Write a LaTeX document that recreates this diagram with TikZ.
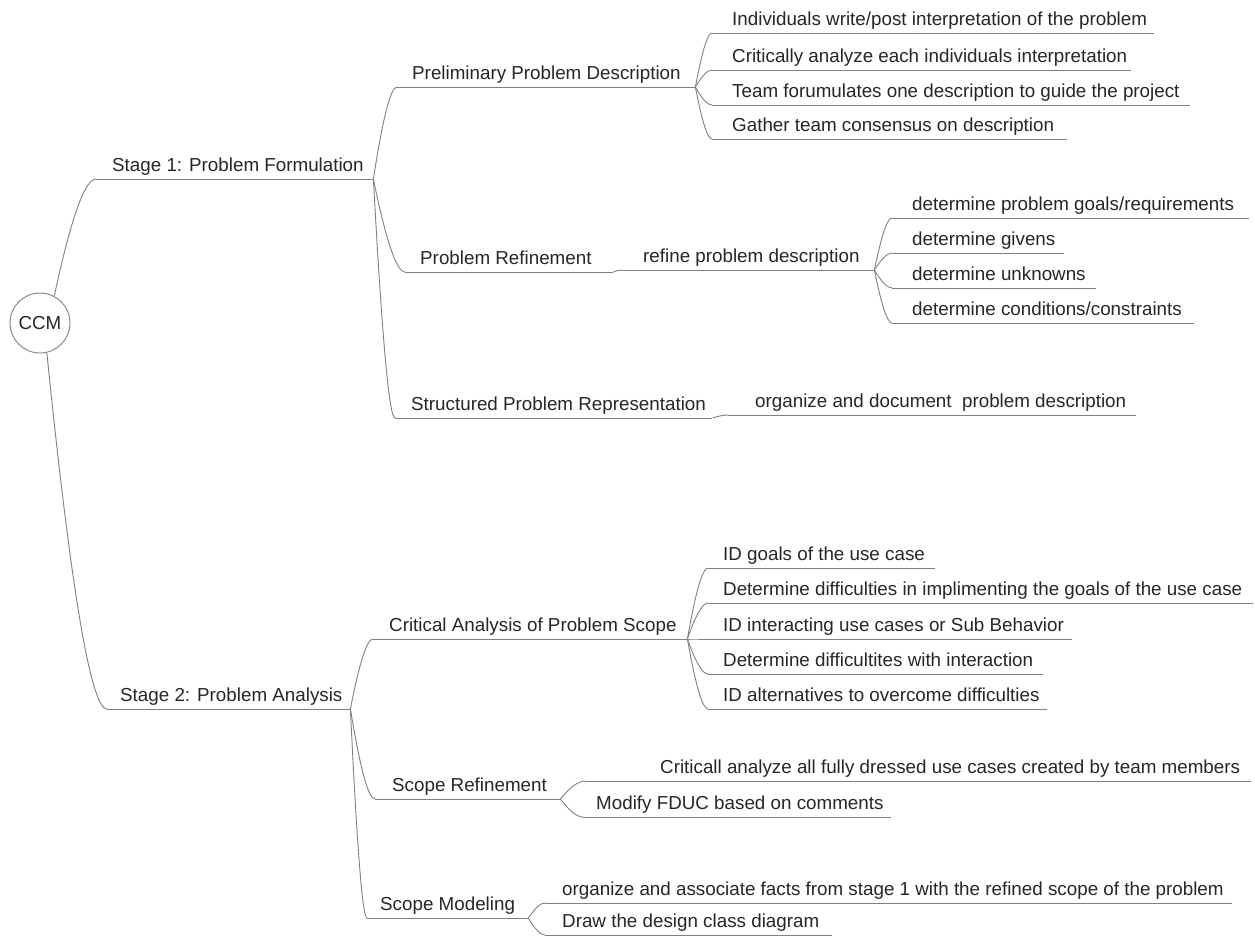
\documentclass[tikz,border=0pt]{standalone}
\usepackage{fontspec}
\setmainfont{Liberation Sans}
\usetikzlibrary{calc}
\newcommand{\mmtext}[3]{\makebox[#1][l]{\hspace*{#2}#3}}
\begin{document}
\begin{tikzpicture}[x=1pt,y=-1pt,
  link/.style={draw=black!50, line width=0.9pt},
  topic/.style={anchor=south west, inner sep=0pt, text height=14pt, text depth=7pt,
    font=\fontsize{18.8}{22}\selectfont, text=black!85},
  curvy/.style={to path={let \p1=(\tikztostart), \p2=(\tikztotarget) in
    .. controls ({\x1+0.4*(\x2-\x1)},{\y1+0.667*(\y2-\y1)}) and ({\x2-0.267*(\x2-\x1)},\y2) .. (\tikztotarget)}}
]
\useasboundingbox (0,0) rectangle (1255,937);

% root
\node[draw=black!50, line width=0.9pt, circle, minimum size=60pt, inner sep=0pt, fill=white,
  font=\fontsize{18.8}{22}\selectfont, text=black!85] (ccm) at (40,323) {CCM};

% level 1
\node[topic] (s1) at (96,179) {\mmtext{277pt}{16pt}{Stage 1: Problem Formulation}};
\node[topic] (s2) at (107,709) {\mmtext{243pt}{13pt}{Stage 2: Problem Analysis}};

% stage 1 children
\node[topic] (p1) at (397,87) {\mmtext{298pt}{15pt}{Preliminary Problem Description}};
\node[topic] (p2) at (405,272) {\mmtext{208pt}{15pt}{Problem Refinement}};
\node[topic] (p3) at (395,418) {\mmtext{317pt}{16pt}{Structured Problem Representation}};

\node[topic] (c11) at (712,33) {\mmtext{442pt}{20pt}{Individuals write/post interpretation of the problem}};
\node[topic] (c12) at (712,70) {\mmtext{419pt}{20pt}{Critically analyze each individuals interpretation}};
\node[topic] (c13) at (712,105) {\mmtext{478pt}{20pt}{Team forumulates one description to guide the project}};
\node[topic] (c14) at (712,139) {\mmtext{355pt}{20pt}{Gather team consensus on description}};

\node[topic] (r1) at (622,270) {\mmtext{252pt}{21pt}{refine problem description}};
\node[topic] (d1) at (892,218) {\mmtext{357pt}{20pt}{determine problem goals/requirements}};
\node[topic] (d2) at (892,253) {\mmtext{172pt}{20pt}{determine givens}};
\node[topic] (d3) at (892,288) {\mmtext{204pt}{20pt}{determine unknowns}};
\node[topic] (d4) at (892,323) {\mmtext{302pt}{20pt}{determine conditions/constraints}};

\node[topic] (o1) at (728,415) {\mmtext{408pt}{27pt}{organize and document\ \ problem description}};

% stage 2 children
\node[topic] (q1) at (373,639) {\mmtext{314pt}{16pt}{Critical Analysis of Problem Scope}};
\node[topic] (q2) at (375,799) {\mmtext{185pt}{17pt}{Scope Refinement}};
\node[topic] (q3) at (367,918) {\mmtext{161pt}{13pt}{Scope Modeling}};

\node[topic] (e1) at (708,568) {\mmtext{227pt}{15pt}{ID goals of the use case}};
\node[topic] (e2) at (708,603) {\mmtext{545pt}{15pt}{Determine difficulties in implimenting the goals of the use case}};
\node[topic] (e3) at (700,639) {\mmtext{372pt}{23pt}{ID interacting use cases or Sub Behavior}};
\node[topic] (e4) at (708,674) {\mmtext{335pt}{15pt}{Determine difficultites with interaction}};
\node[topic] (e5) at (708,709) {\mmtext{339pt}{15pt}{ID alternatives to overcome difficulties}};

\node[topic] (f1) at (585,781) {\mmtext{666pt}{75pt}{Criticall analyze all fully dressed use cases created by team members}};
\node[topic] (f2) at (583,817) {\mmtext{308pt}{13pt}{Modify FDUC based on comments}};

\node[topic] (g1) at (545,903) {\mmtext{687pt}{17pt}{organize and associate facts from stage 1 with the refined scope of the problem}};
\node[topic] (g2) at (545,935) {\mmtext{287pt}{17pt}{Draw the design class diagram}};

% underlines
\foreach \n in {s1,s2,p1,p2,p3,c11,c12,c13,c14,r1,d1,d2,d3,d4,o1,q1,q2,q3,e1,e2,e3,e4,e5,f1,f2,g1,g2}
  \draw[link] (\n.south west) -- (\n.south east);

% connectors
\draw[link] (ccm.62) to[curvy] (s1.south west);
\draw[link] (ccm.-77) to[curvy] (s2.south west);

\foreach \c in {p1,p2,p3} \draw[link] (s1.south east) to[curvy] (\c.south west);
\foreach \c in {c11,c12,c13,c14} \draw[link] (p1.south east) to[curvy] (\c.south west);
\draw[link] (p2.south east) to[curvy] (r1.south west);
\foreach \c in {d1,d2,d3,d4} \draw[link] (r1.south east) to[curvy] (\c.south west);
\draw[link] (p3.south east) to[curvy] (o1.south west);

\foreach \c in {q1,q2,q3} \draw[link] (s2.south east) to[curvy] (\c.south west);
\foreach \c in {e1,e2,e3,e4,e5} \draw[link] (q1.south east) to[curvy] (\c.south west);
\foreach \c in {f1,f2} \draw[link] (q2.south east) to[curvy] (\c.south west);
\foreach \c in {g1,g2} \draw[link] (q3.south east) to[curvy] (\c.south west);
\end{tikzpicture}
\end{document}
